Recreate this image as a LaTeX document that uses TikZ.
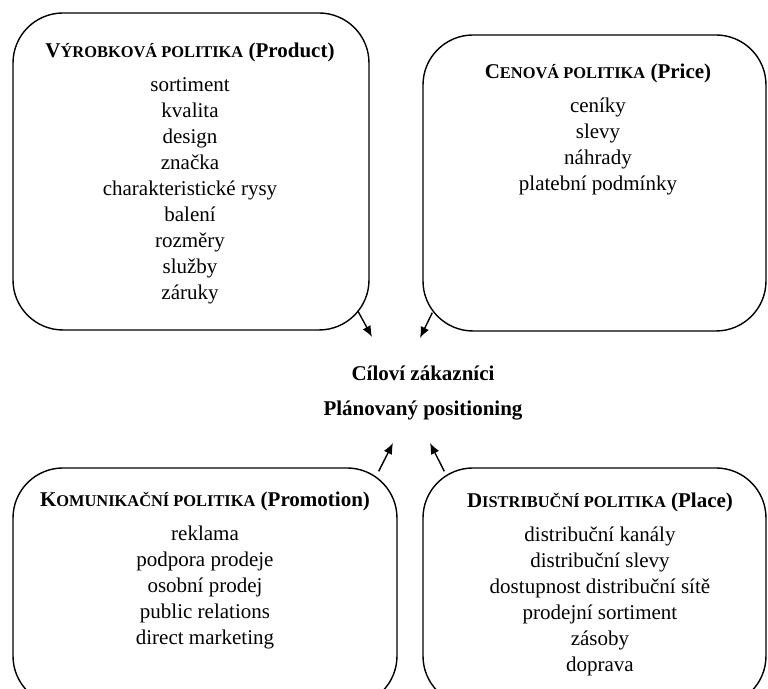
\documentclass[tikz,border=0pt]{standalone}
\usepackage{fontspec}
\setmainfont{Liberation Serif}
\usetikzlibrary{positioning, calc, arrows.meta}
\newcommand{\polhead}[3]{\textbf{#1{\fontsize{8.2}{9}\selectfont #2} (#3)}}

\begin{document}
\begin{tikzpicture}[x=0.5pt, y=0.5pt, line width=0.7pt,
    panel/.style={draw, rounded corners=25pt, inner sep=0pt},
    items/.style={anchor=north, align=center, inner sep=0pt, font=\fontsize{10.5}{13}\selectfont},
    link/.style={-{Latex[length=5.5pt, width=4.5pt]}}]
  \useasboundingbox (0,0) rectangle (768,689);
  \clip (0,0) rectangle (768,689);
  \node[panel, minimum width=178pt, minimum height=158.5pt] (product) at (191,517.5) {};
  \node[panel, minimum width=171.5pt, minimum height=148pt] (price) at (594.5,506) {};
  \node[panel, minimum width=192pt, minimum height=119pt] (promotion) at (205,102) {};
  \node[panel, minimum width=171.5pt, minimum height=119pt] (place) at (594.5,102) {};
  \node[items] (productlist) at (190,646.4) {\polhead{V}{ÝROBKOVÁ POLITIKA}{Product}\\[4pt]
    sortiment\\kvalita\\design\\značka\\charakteristické rysy\\balení\\rozměry\\služby\\záruky};
  \node[items] (pricelist) at (598,625.4) {\polhead{C}{ENOVÁ POLITIKA}{Price}\\[4pt]
    ceníky\\slevy\\náhrady\\platební podmínky};
  \node[items] (promotionlist) at (205,197.4) {\polhead{K}{OMUNIKAČNÍ POLITIKA}{Promotion}\\[4pt]
    reklama\\podpora prodeje\\osobní prodej\\public relations\\direct marketing};
  \node[items] (placelist) at (600,196.4) {\polhead{D}{ISTRIBUČNÍ POLITIKA}{Place}\\[4pt]
    distribuční kanály\\distribuční slevy\\dostupnost distribuční sítě\\prodejní sortiment\\zásoby\\doprava};
  \node[items, font=\bfseries\fontsize{10.5}{13}\selectfont] (target) at (423,323.6) {Cíloví zákazníci\\[4.5pt]Plánovaný positioning};
  \coordinate (aimNW) at (372,352);
  \coordinate (aimNE) at (420,351);
  \coordinate (aimSW) at (393,246);
  \coordinate (aimSE) at (430,246);
  \draw[link] ($(product.south east)+(-12,20)$) -- (aimNW);
  \draw[link] ($(price.south west)+(10,19)$) -- (aimNE);
  \draw[link] ($(promotion.north east)+(-19,-4)$) -- (aimSW);
  \draw[link] ($(place.north west)+(22,-4)$) -- (aimSE);
\end{tikzpicture}
\end{document}
